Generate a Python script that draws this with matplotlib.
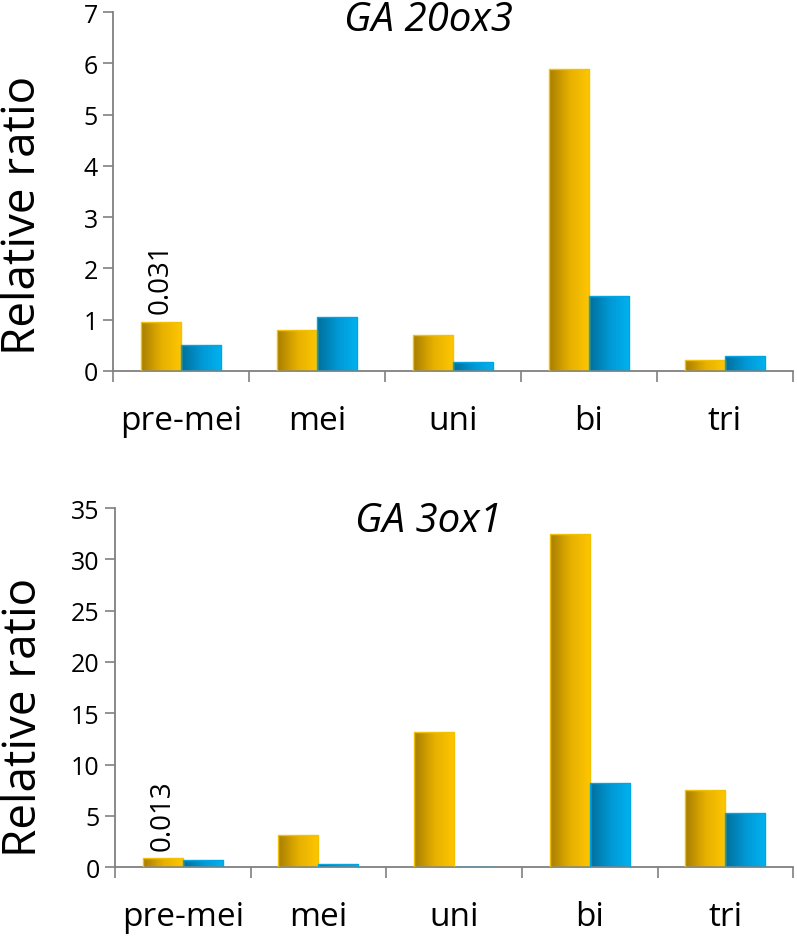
import numpy as np
import matplotlib
matplotlib.use('Agg')
import matplotlib.pyplot as plt
from matplotlib.colors import LinearSegmentedColormap

plt.rcParams['font.family'] = ['Open Sans', 'DejaVu Sans']

stages = ['pre-mei', 'mei', 'uni', 'bi', 'tri']

ga20_gold = [0.96, 0.80, 0.70, 5.89, 0.21]
ga20_blue = [0.51, 1.05, 0.17, 1.47, 0.30]

ga3_gold = [0.88, 3.1, 13.2, 32.5, 7.5]
ga3_blue = [0.68, 0.25, 0.0, 8.2, 5.3]

titles = ['GA 20ox3', 'GA 3ox1']
notes = ['0.031', '0.013']

gold_cmap = LinearSegmentedColormap.from_list('gold', ['#a87e00', '#e6b000', '#ffc600'])
blue_cmap = LinearSegmentedColormap.from_list('blue', ['#006f9c', '#0098d4', '#00b2f0'])
grad = np.linspace(0, 1, 64).reshape(1, -1)


def gradient_bars(ax, x, heights, width, cmap, edge):
    bars = ax.bar(x, heights, width, color='none', edgecolor=edge, linewidth=1.0, zorder=3)
    for b in bars:
        if b.get_height() <= 0:
            continue
        x0, y0 = b.get_x(), b.get_y()
        im = ax.imshow(grad, cmap=cmap, aspect='auto', zorder=2,
                       extent=[x0, x0 + b.get_width(), y0, y0 + b.get_height()])
        im.set_clip_path(b)
    return bars


def draw_panel(ax, gold, blue, ymax, ystep, note):
    x = np.arange(len(stages)) + 0.5
    w = 0.295
    gold_bars = gradient_bars(ax, x - w / 2, gold, w, gold_cmap, '#f2c200')
    gradient_bars(ax, x + w / 2, blue, w, blue_cmap, '#00a6e4')

    ax.set_xlim(0, len(stages))
    ax.set_ylim(0, ymax)
    ax.set_yticks(np.arange(0, ymax + 0.01, ystep))
    ax.set_xticks(np.arange(0, len(stages) + 1))
    ax.set_xticklabels([])
    ax.set_xticks(x, minor=True)
    ax.set_xticklabels(stages, minor=True, fontsize=24)
    ax.tick_params(axis='x', which='minor', length=0, pad=24)
    ax.tick_params(axis='x', which='major', length=8, width=1.2, color='#808080')
    ax.tick_params(axis='y', length=7, width=1.2, color='#808080', labelsize=18, pad=4)

    for side in ['top', 'right']:
        ax.spines[side].set_visible(False)
    for side in ['left', 'bottom']:
        ax.spines[side].set_color('#808080')
        ax.spines[side].set_linewidth(1.3)

    ax.set_ylabel('Relative ratio', fontsize=33)

    b = gold_bars[0]
    ax.annotate(note, (b.get_x() + b.get_width() / 2, b.get_height()),
                xytext=(0, 6), textcoords='offset points', rotation=90,
                ha='center', va='bottom', fontsize=20)


fig = plt.figure(figsize=(7.97, 9.37), dpi=100)
ax1 = fig.add_axes([0.1418, 0.603, 0.853, 0.383])
ax2 = fig.add_axes([0.1443, 0.0736, 0.851, 0.383])

draw_panel(ax1, ga20_gold, ga20_blue, 7, 1, notes[0])
draw_panel(ax2, ga3_gold, ga3_blue, 35, 5, notes[1])

ax1.yaxis.set_label_coords(-0.098, 0.435)
ax2.yaxis.set_label_coords(-0.101, 0.42)

fig.text(428 / 797, 1 - 31 / 937, titles[0], ha='center', va='baseline',
         fontsize=29, style='italic')
fig.text(428 / 797, 1 - 532 / 937, titles[1], ha='center', va='baseline',
         fontsize=29, style='italic')

fig.savefig('out.png', dpi=100)
